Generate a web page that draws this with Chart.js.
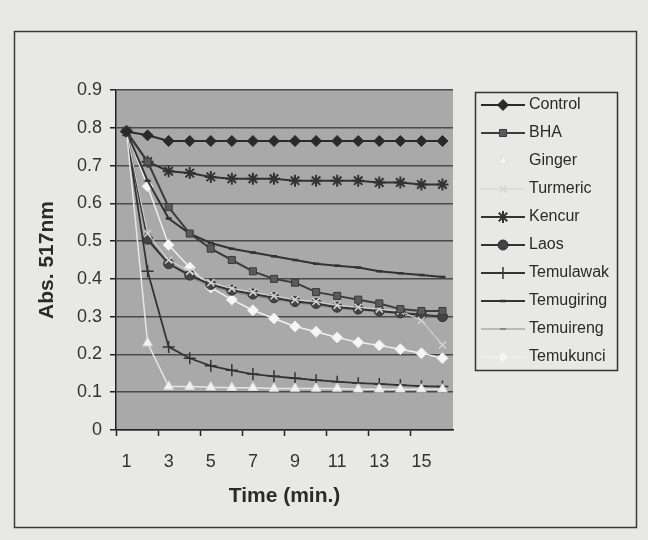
<!DOCTYPE html>
<html>
<head>
<meta charset="utf-8">
<script src="https://cdn.jsdelivr.net/npm/chart.js@4.4.1/dist/chart.umd.min.js"></script>
<style>
  html, body { margin: 0; padding: 0; background: #e8e8e6; }
  #wrap { width: 648px; height: 540px; position: relative; }
</style>
</head>
<body>
<div id="wrap"><canvas id="chart"></canvas></div>
<script>
// time (min.) categories and absorbance at 517 nm
const times = ["1", "2", "3", "4", "5", "6", "7", "8", "9", "10", "11", "12", "13", "14", "15", "16"];
const control    = [0.79, 0.78, 0.765, 0.765, 0.765, 0.765, 0.765, 0.765, 0.765, 0.765, 0.765, 0.765, 0.765, 0.765, 0.765, 0.765];
const bha        = [0.79, 0.71, 0.59, 0.52, 0.48, 0.45, 0.42, 0.40, 0.39, 0.365, 0.355, 0.345, 0.335, 0.32, 0.315, 0.315];
const ginger     = [0.79, 0.23, 0.115, 0.115, 0.113, 0.112, 0.112, 0.11, 0.11, 0.11, 0.11, 0.108, 0.108, 0.108, 0.108, 0.108];
const turmeric   = [0.79, 0.52, 0.45, 0.42, 0.39, 0.375, 0.365, 0.355, 0.345, 0.34, 0.33, 0.325, 0.32, 0.315, 0.29, 0.225];
const kencur     = [0.79, 0.71, 0.685, 0.68, 0.67, 0.665, 0.665, 0.665, 0.66, 0.66, 0.66, 0.66, 0.655, 0.655, 0.65, 0.65];
const laos       = [0.79, 0.505, 0.44, 0.41, 0.385, 0.37, 0.36, 0.35, 0.34, 0.335, 0.325, 0.32, 0.315, 0.31, 0.305, 0.30];
const temulawak  = [0.79, 0.42, 0.22, 0.19, 0.17, 0.158, 0.148, 0.142, 0.137, 0.132, 0.128, 0.124, 0.122, 0.119, 0.116, 0.115];
const temugiring = [0.79, 0.66, 0.56, 0.52, 0.495, 0.48, 0.47, 0.46, 0.45, 0.44, 0.435, 0.43, 0.42, 0.415, 0.41, 0.405];
const temuireng  = [0.79, 0.50, 0.44, 0.405, 0.38, 0.365, 0.355, 0.345, 0.338, 0.33, 0.322, 0.318, 0.312, 0.308, 0.302, 0.298];
const temukunci  = [0.79, 0.645, 0.49, 0.43, 0.377, 0.345, 0.317, 0.295, 0.274, 0.26, 0.245, 0.232, 0.224, 0.214, 0.203, 0.19];

const yTicks = [0, 0.1, 0.2, 0.3, 0.4, 0.5, 0.6, 0.7, 0.8, 0.9];

const FONT = "'Liberation Sans', Arial, sans-serif";

function series(label, data, line, width, style, radius, fill, border, bw) {
  return {
    label, data,
    borderColor: line,
    borderWidth: width,
    pointStyle: style,
    pointRadius: radius,
    pointHoverRadius: radius,
    pointBackgroundColor: fill,
    pointBorderColor: border,
    pointBorderWidth: bw,
    tension: 0,
    fill: false
  };
}

const datasets = [
  series("Control", control, "#2a2a2a", 2, "rectRot", 5.5, "#2a2a2a", "#2a2a2a", 1),
  series("BHA", bha, "#3c3c3c", 2, "rect", 5, "#5a5a5a", "#3a3a3a", 1),
  series("Ginger", ginger, "#e6e6e6", 1.5, "triangle", 5.5, "#f2f2f2", "#e0e0e0", 1),
  series("Turmeric", turmeric, "#cfcfcf", 1.2, "crossRot", 5, "#d4d4d4", "#d4d4d4", 1.5),
  series("Kencur", kencur, "#333333", 2, "star", 6, "#333333", "#333333", 2),
  series("Laos", laos, "#333333", 2, "circle", 5, "#444444", "#333333", 1),
  series("Temulawak", temulawak, "#333333", 1.8, "cross", 6, "#333333", "#333333", 1.5),
  series("Temugiring", temugiring, "#333333", 2, "line", 3, "#333333", "#333333", 2.5),
  series("Temuireng", temuireng, "#8a8a8a", 1.2, "line", 3, "#8a8a8a", "#8a8a8a", 2),
  series("Temukunci", temukunci, "#f0f0f0", 1.5, "rectRot", 5.5, "#f6f6f6", "#e8e8e8", 1)
];

const backdrop = {
  id: "backdrop",
  beforeDraw(chart) {
    const { ctx, chartArea: a } = chart;
    ctx.save();
    ctx.fillStyle = "#e8e8e6";
    ctx.fillRect(0, 0, chart.width, chart.height);
    ctx.fillStyle = "#a9a9a9";
    ctx.fillRect(a.left, a.top, a.right - a.left, a.bottom - a.top);
    ctx.strokeStyle = "#3a3a3a";
    ctx.lineWidth = 1.5;
    ctx.strokeRect(14.5, 31.5, 622, 496);
    ctx.restore();
  }
};

const legendBox = {
  id: "legendBox",
  afterDraw(chart) {
    const ctx = chart.ctx;
    ctx.save();
    ctx.strokeStyle = "#333";
    ctx.lineWidth = 1.5;
    ctx.strokeRect(475.5, 92.5, 142, 278);
    chart.data.datasets.forEach((ds, i) => {
      const y = 105 + i * 28;
      ctx.strokeStyle = ds.borderColor;
      ctx.lineWidth = ds.borderWidth;
      ctx.beginPath();
      ctx.moveTo(481, y);
      ctx.lineTo(525, y);
      ctx.stroke();
      ctx.fillStyle = ds.pointBackgroundColor;
      ctx.strokeStyle = ds.pointBorderColor;
      ctx.lineWidth = ds.pointBorderWidth;
      Chart.helpers.drawPoint(ctx, {
        pointStyle: ds.pointStyle,
        radius: ds.pointRadius,
        rotation: 0,
        borderWidth: ds.pointBorderWidth
      }, 503, y);
      ctx.fillStyle = "#2a2a2a";
      ctx.font = "16px " + FONT;
      ctx.textBaseline = "middle";
      ctx.textAlign = "left";
      ctx.fillText(ds.label, 529, y);
    });
    ctx.restore();
  }
};

new Chart(document.getElementById("chart"), {
  type: "line",
  data: { labels: times, datasets },
  plugins: [backdrop, legendBox],
  options: {
    responsive: true,
    maintainAspectRatio: false,
    animation: false,
    layout: { padding: { top: 90, right: 195, left: 0, bottom: 0 } },
    plugins: {
      legend: { display: false },
      tooltip: { enabled: false }
    },
    scales: {
      x: {
        type: "category",
        offset: true,
        afterFit(scale) { scale.height = 110; },
        grid: {
          offset: true,
          drawOnChartArea: false,
          tickLength: 6,
          tickWidth: 1.5,
          tickColor: (c) => (c.index % 2 === 0 ? "#222" : "rgba(0,0,0,0)")
        },
        border: { color: "#222", width: 1.5 },
        ticks: {
          autoSkip: false,
          maxRotation: 0,
          padding: 15,
          color: "#333",
          font: { family: FONT, size: 18 },
          callback(v, i) { return i % 2 === 0 ? times[i] : ""; }
        },
        title: {
          display: true,
          text: "Time (min.)",
          color: "#2a2a2a",
          font: { family: FONT, size: 21, weight: "bold" },
          padding: { top: 0, bottom: 31 }
        }
      },
      y: {
        min: 0,
        max: 0.9,
        afterFit(scale) { scale.width = 116; },
        afterBuildTicks(scale) { scale.ticks = yTicks.map((v) => ({ value: v })); },
        grid: {
          color: "#4a4a4a",
          lineWidth: 1.5,
          tickLength: 6,
          tickColor: "#222"
        },
        border: { color: "#222", width: 1.5 },
        ticks: {
          padding: 8,
          color: "#333",
          font: { family: FONT, size: 18 },
          callback(v) { return String(Math.round(v * 10) / 10); }
        },
        title: {
          display: true,
          text: "Abs. 517nm",
          color: "#2a2a2a",
          font: { family: FONT, size: 21, weight: "bold" },
          padding: { top: 35, bottom: 0 }
        }
      }
    }
  }
});
</script>
</body>
</html>
